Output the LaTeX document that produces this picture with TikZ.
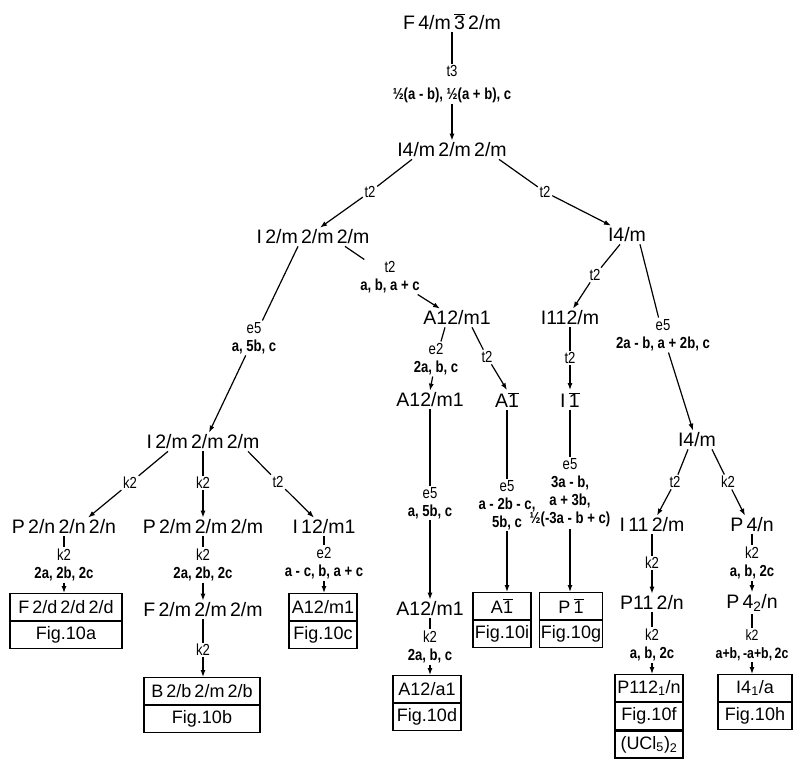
\documentclass[tikz,border=0pt]{standalone}
\usepackage{fontspec}
\setmainfont{Liberation Sans}
\newfontfamily\labf{Liberation Sans}[FakeStretch=0.82]
\usetikzlibrary{arrows.meta}
\newcommand\ob[1]{$\overline{\mbox{#1}}$}
\newcommand\sbs[1]{\textsubscript{#1}}
\newcommand\lk[3]{\draw[ln] (#1) -- (#2); \draw[ln,arr] (#2) -- (#3);}
\begin{document}
\begin{tikzpicture}[x=1pt,y=-1pt,
  sg/.style={font=\fontsize{19.5}{22}\selectfont, inner sep=2pt},
  lab/.style={font=\labf\fontsize{16}{18}\selectfont, align=center, inner sep=1.5pt},
  ln/.style={line width=1.2pt},
  arr/.style={-{Latex[length=7pt,width=5pt]}},
  cell/.style={draw, line width=1.2pt, font=\fontsize{18}{21}\selectfont, minimum height=27pt, inner sep=1pt, anchor=north}]
\useasboundingbox (0,0) rectangle (793,759);
% group nodes
\node[sg] (n1) at (452,22) {F\,4/m\,\ob{3}\,2/m};
\node[lab] (L1) at (452,84) {t3\\[5pt]\textbf{½(a - b), ½(a + b), c}};
\node[sg] (n2) at (452,150) {I4/m\,2/m\,2/m};
\node[lab] (L2) at (370,192) {t2};
\node[lab] (L3) at (545,192) {t2};
\node[sg] (n3) at (313,237) {I\,2/m\,2/m\,2/m};
\node[sg] (n4) at (627,235) {I4/m};
\node[lab] (L4) at (390,277) {t2\\\textbf{a, b, a + c}};
\node[lab] (L5) at (254,338) {e5\\\textbf{a, 5b, c}};
\node[lab] (L6) at (595,275) {t2};
\node[lab] (L7) at (663,335) {e5\\\textbf{2a - b, a + 2b, c}};
\node[sg] (n5) at (457,318) {A12/m1};
\node[sg] (n7) at (570,318) {I112/m};
\node[lab] (L8) at (436,359) {e2\\\textbf{2a, b, c}};
\node[lab] (L9) at (487,357) {t2};
\node[lab] (L10) at (570,358) {t2};
\node[sg] (n8) at (697,440) {I4/m};
\node[sg] (n9) at (430,400) {A12/m1};
\node[sg] (n10) at (507,400) {A\ob{1}};
\node[sg] (n11) at (570,400) {I\,\ob{1}};
\node[sg] (n6) at (203,442) {I\,2/m\,2/m\,2/m};
\node[lab] (L11) at (430,503) {e5\\\textbf{a, 5b, c}};
\node[lab] (L12) at (507,505) {e5\\\textbf{a - 2b - c,}\\\textbf{5b, c}};
\node[lab] (L13) at (570,493) {e5\\\textbf{3a - b,}\\\textbf{a + 3b,}\\\textbf{½(-3a - b + c)}};
\node[lab] (L14) at (130,483) {k2};
\node[lab] (L15) at (203,483) {k2};
\node[lab] (L16) at (278,482) {t2};
\node[sg] (n13) at (64,527) {P\,2/n\,2/n\,2/n};
\node[sg] (n14) at (203,527) {P\,2/m\,2/m\,2/m};
\node[sg] (n15) at (324,527) {I\,12/m1};
\node[lab] (L17) at (64,565) {k2\\\textbf{2a, 2b, 2c}};
\node[lab] (L18) at (203,565) {k2\\\textbf{2a, 2b, 2c}};
\node[lab] (L20) at (324,563) {e2\\\textbf{a - c, b, a + c}};
\node[sg] (n16) at (203,610) {F\,2/m\,2/m\,2/m};
\node[lab] (L19) at (203,650) {k2};
\node[sg] (n12) at (430,609) {A12/m1};
\node[lab] (L21) at (430,647) {k2\\\textbf{2a, b, c}};
\node[lab] (L22) at (675,482) {t2};
\node[lab] (L23) at (728,482) {k2};
\node[sg] (n17) at (652,525) {I\,11\,2/m};
\node[sg] (n18) at (752,525) {P\,4/n};
\node[lab] (L24) at (652,563) {k2};
\node[lab] (L25) at (752,563) {k2\\\textbf{a, b, 2c}};
\node[sg] (n19) at (652,603) {P11\,2/n};
\node[sg] (n20) at (752,603) {P\,4\sbs{2}/n};
\node[lab] (L26) at (652,645) {k2\\\textbf{a, b, 2c}};
\node[lab, font=\labf\fontsize{15}{18}\selectfont] (L27) at (752,645) {k2\\\textbf{a+b,\,-a+b,\,2c}};
% boxes
\node[cell, minimum width=112pt] (Fa) at (66,593) {F\,2/d\,2/d\,2/d};
\node[cell, minimum width=112pt] (Fa2) at (Fa.south) {Fig.10a};
\node[cell, minimum width=116pt] (Bb) at (202,677) {B\,2/b\,2/m\,2/b};
\node[cell, minimum width=116pt] (Bb2) at (Bb.south) {Fig.10b};
\node[cell, minimum width=68pt] (Ac) at (323,593) {A12/m1};
\node[cell, minimum width=68pt] (Ac2) at (Ac.south) {Fig.10c};
\node[cell, minimum width=68pt] (Ad) at (427,675) {A12/a1};
\node[cell, minimum width=68pt] (Ad2) at (Ad.south) {Fig.10d};
\node[cell, minimum width=58pt] (Ai) at (502,592) {A\ob{1}};
\node[cell, minimum width=58pt] (Ai2) at (Ai.south) {Fig.10i};
\node[cell, minimum width=63pt] (Pg) at (571,592) {P\,\ob{1}};
\node[cell, minimum width=63pt] (Pg2) at (Pg.south) {Fig.10g};
\node[cell, minimum width=68pt] (Pf) at (649,674) {P112\sbs{1}/n};
\node[cell, minimum width=68pt] (Pf2) at (Pf.south) {Fig.10f};
\node[cell, minimum width=68pt] (Pf3) at (Pf2.south) {(UCl\sbs{5})\sbs{2}};
\node[cell, minimum width=74pt] (Ih) at (755,674) {I4\sbs{1}/a};
\node[cell, minimum width=74pt] (Ih2) at (Ih.south) {Fig.10h};
% connectors
\lk{n1}{L1}{n2}
\lk{[xshift=-40pt]n2.south}{L2}{[xshift=7pt]n3.north}
\lk{[xshift=47pt]n2.south}{L3}{[xshift=-16pt]n4.north}
\lk{[xshift=32pt]n3.south}{L4}{[xshift=-17pt]n5.north}
\lk{[xshift=-15pt]n3.south}{L5}{[xshift=6pt]n6.north}
\lk{[xshift=-7pt]n4.south}{L6}{[xshift=3pt]n7.north}
\lk{[xshift=13pt]n4.south}{L7}{[xshift=-4pt]n8.north}
\lk{[xshift=-12pt]n5.south}{L8}{n9.north}
\lk{[xshift=15pt]n5.south}{L9}{n10.north}
\lk{n7}{L10}{n11}
\lk{n9}{L11}{n12}
\lk{n10}{L12}{L12 |- Ai.north}
\lk{n11}{L13}{L13 |- Pg.north}
\lk{[xshift=-35pt]n6.south}{L14}{[xshift=24pt]n13.north}
\lk{n6}{L15}{n14}
\lk{[xshift=45pt]n6.south}{L16}{[xshift=-10pt]n15.north}
\lk{n13}{L17}{L17 |- Fa.north}
\lk{n14}{L18}{n16}
\lk{n16}{L19}{L19 |- Bb.north}
\lk{n15}{L20}{L20 |- Ac.north}
\lk{n12}{L21}{L21 |- Ad.north}
\lk{[xshift=-9pt]n8.south}{L22}{[xshift=5pt]n17.north}
\lk{[xshift=15pt]n8.south}{L23}{[xshift=-7pt]n18.north}
\lk{n17}{L24}{n19}
\lk{n18}{L25}{n20}
\lk{n19}{L26}{L26 |- Pf.north}
\lk{n20}{L27}{L27 |- Ih.north}
\end{tikzpicture}
\end{document}
